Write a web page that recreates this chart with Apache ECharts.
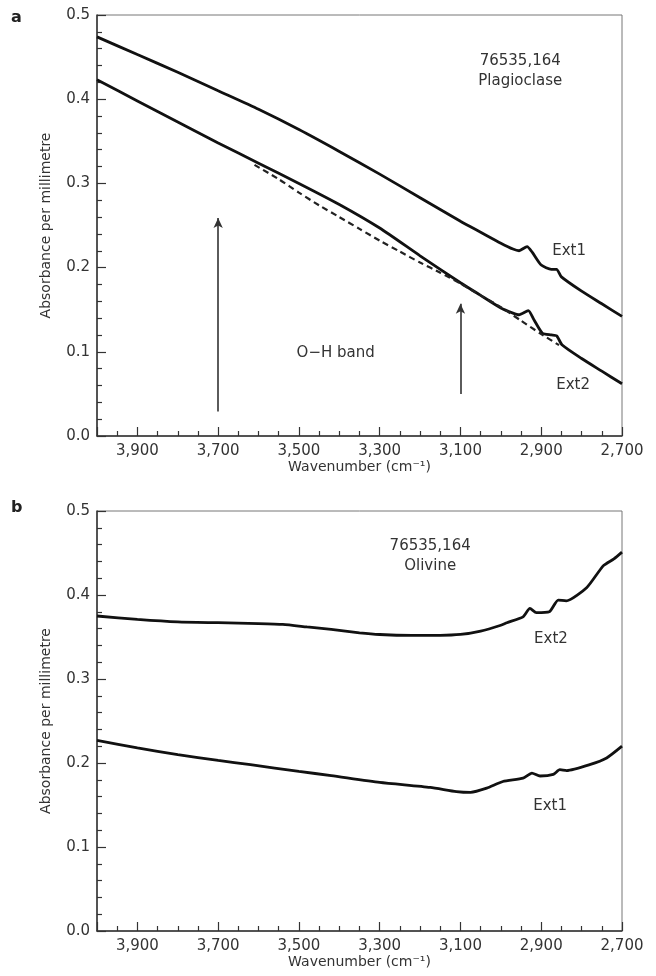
<!DOCTYPE html>
<html>
<head>
<meta charset="utf-8">
<script src="https://cdn.jsdelivr.net/npm/echarts@6/dist/echarts.min.js"></script>
<style>
  html, body { margin: 0; padding: 0; background: #fff; }
  #chart { width: 656px; height: 976px; }
</style>
</head>
<body>
<div id="chart"></div>
<script>
// panel a - plagioclase
const aExt1Wn = [4000, 3900, 3800, 3700, 3600, 3500, 3400, 3300, 3200, 3100, 3050, 3000, 2970, 2955, 2935, 2922, 2900, 2875, 2862, 2850, 2800, 2750, 2700]
const aExt1Abs = [0.474, 0.453, 0.432, 0.410, 0.388, 0.364, 0.338, 0.311, 0.283, 0.255, 0.242, 0.229, 0.222, 0.220, 0.225, 0.218, 0.203, 0.198, 0.198, 0.189, 0.172, 0.157, 0.142]
const aExt2Wn = [4000, 3900, 3800, 3700, 3600, 3500, 3400, 3300, 3200, 3100, 3050, 3000, 2970, 2955, 2932, 2918, 2897, 2875, 2862, 2848, 2800, 2750, 2700]
const aExt2Abs = [0.423, 0.398, 0.373, 0.348, 0.324, 0.300, 0.275, 0.247, 0.214, 0.182, 0.167, 0.152, 0.146, 0.144, 0.149, 0.138, 0.122, 0.120, 0.119, 0.108, 0.092, 0.077, 0.062]
const aBaseWn = [3610, 3550, 3500, 3450, 3400, 3350, 3300, 3250, 3200, 3150, 3100, 3050, 3000, 2950, 2900, 2856]
const aBaseAbs = [0.322, 0.305, 0.289, 0.274, 0.260, 0.246, 0.232, 0.219, 0.206, 0.194, 0.181, 0.167, 0.153, 0.137, 0.121, 0.108]
// arrows: [wavenumber, from, to]
const aArrows = [[3700, 0.029, 0.259], [3100, 0.05, 0.157]]

// panel b - olivine
const bExt2Wn = [4000, 3900, 3800, 3700, 3600, 3540, 3480, 3420, 3350, 3300, 3220, 3150, 3100, 3050, 3000, 2985, 2945, 2928, 2912, 2880, 2858, 2838, 2787, 2746, 2720, 2700]
const bExt2Abs = [0.375, 0.371, 0.368, 0.367, 0.366, 0.365, 0.362, 0.359, 0.355, 0.353, 0.352, 0.352, 0.353, 0.357, 0.364, 0.367, 0.374, 0.384, 0.379, 0.380, 0.394, 0.393, 0.409, 0.435, 0.443, 0.451]
const bExt1Wn = [4000, 3900, 3800, 3700, 3620, 3500, 3420, 3300, 3175, 3110, 3075, 3035, 2995, 2945, 2923, 2903, 2870, 2854, 2837, 2780, 2738, 2700]
const bExt1Abs = [0.227, 0.218, 0.210, 0.203, 0.198, 0.190, 0.185, 0.177, 0.171, 0.166, 0.165, 0.170, 0.178, 0.182, 0.188, 0.1845, 0.1865, 0.192, 0.191, 0.198, 0.206, 0.220]

// text notes: [wavenumber, absorbance, text]
const aNotes = [[2952, 0.433, '76535,164\nPlagioclase'], [2831, 0.220, 'Ext1'], [2821, 0.061, 'Ext2'], [3409, 0.099, 'O−H band']]
const bNotes = [[3175, 0.446, '76535,164\nOlivine'], [2876, 0.348, 'Ext2'], [2878, 0.149, 'Ext1']]

// axes
const wnMin = 2700, wnMax = 4000, wnStep = 200
const absMin = 0, absMax = 0.5, absStep = 0.1

const FONT = 'DejaVu Sans'
const TXT = '#333'

const pairs = (xs, ys) => xs.map((x, i) => [x, ys[i]])

function xAxisFor (gi) {
    return {
        gridIndex: gi, type: 'value', inverse: true,
        min: wnMin, max: wnMax, interval: wnStep,
        name: 'Wavenumber (cm⁻¹)', nameLocation: 'middle', nameGap: 23,
        nameTextStyle: { fontFamily: FONT, fontSize: 14, color: TXT },
        axisLine: { lineStyle: { color: '#333', width: 1.5 } },
        axisTick: { inside: true, length: 9, lineStyle: { color: '#333', width: 1.2 } },
        minorTick: { show: true, splitNumber: 4, length: 5, lineStyle: { color: '#333', width: 1.2 } },
        splitLine: { show: false },
        axisLabel: {
            fontFamily: FONT, fontSize: 15, color: TXT, margin: 8,
            formatter: v => (v === wnMax ? '' : v.toLocaleString('en-US'))
        }
    }
}
function yAxisFor (gi) {
    return {
        gridIndex: gi, type: 'value',
        min: absMin, max: absMax, interval: absStep,
        name: 'Absorbance per millimetre', nameLocation: 'middle', nameGap: 44,
        nameTextStyle: { fontFamily: FONT, fontSize: 14, color: TXT },
        axisLine: { show: true, lineStyle: { color: '#333', width: 1.5 } },
        axisTick: { inside: true, length: 9, lineStyle: { color: '#333', width: 1.2 } },
        minorTick: { show: true, splitNumber: 5, length: 5, lineStyle: { color: '#333', width: 1.2 } },
        splitLine: { show: false },
        axisLabel: { fontFamily: FONT, fontSize: 15, color: TXT, margin: 7, formatter: v => v.toFixed(1) }
    }
}
const curve = (gi, data, extra) => Object.assign({
    type: 'line', xAxisIndex: gi, yAxisIndex: gi, data: data,
    showSymbol: false, smooth: 0.2, silent: true,
    lineStyle: { color: '#111', width: 2.8 }
}, extra || {})
const notes = (gi, list) => ({
    type: 'scatter', xAxisIndex: gi, yAxisIndex: gi, silent: true,
    symbolSize: 1, itemStyle: { color: 'transparent', opacity: 1 },
    data: list.map(n => ({ value: [n[0], n[1]], name: n[2] })),
    label: {
        show: true, position: 'inside', formatter: p => p.name,
        fontFamily: FONT, fontSize: 15, color: TXT, lineHeight: 20, align: 'center', verticalAlign: 'middle'
    }
})

const chart = echarts.init(document.getElementById('chart'))
chart.setOption({
    animation: false,
    grid: [
        { left: 97, top: 15, width: 525, height: 421, show: true, borderColor: '#777', borderWidth: 1 },
        { left: 97, top: 511, width: 525, height: 420, show: true, borderColor: '#777', borderWidth: 1 }
    ],
    xAxis: [xAxisFor(0), xAxisFor(1)],
    yAxis: [yAxisFor(0), yAxisFor(1)],
    graphic: [
        { type: 'text', left: 11, top: 10, style: { text: 'a', font: 'bold 16px ' + FONT, fill: '#222' } },
        { type: 'text', left: 11, top: 500, style: { text: 'b', font: 'bold 16px ' + FONT, fill: '#222' } }
    ],
    series: [
        curve(0, pairs(aExt1Wn, aExt1Abs)),
        curve(0, pairs(aExt2Wn, aExt2Abs), {
            markLine: {
                silent: true, symbol: ['none', 'arrow'], symbolSize: [7, 10],
                label: { show: false },
                lineStyle: { color: '#333', width: 1.6, type: 'solid' },
                data: aArrows.map(a => [{ coord: [a[0], a[1]] }, { coord: [a[0], a[2]] }])
            }
        }),
        curve(0, pairs(aBaseWn, aBaseAbs), { lineStyle: { color: '#222', width: 2.2, type: [6, 4] } }),
        notes(0, aNotes),
        curve(1, pairs(bExt2Wn, bExt2Abs)),
        curve(1, pairs(bExt1Wn, bExt1Abs)),
        notes(1, bNotes)
    ]
})
window.addEventListener('resize', () => chart.resize())
</script>
</body>
</html>
